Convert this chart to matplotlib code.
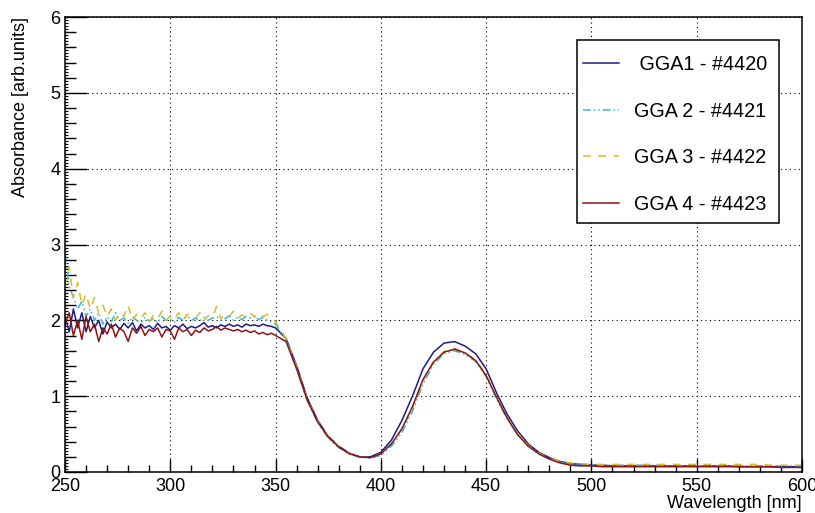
import numpy as np
import matplotlib
matplotlib.use("Agg")
import matplotlib.pyplot as plt
from matplotlib.patches import Rectangle
from matplotlib.ticker import MultipleLocator, NullFormatter

plt.rcParams['font.family'] = ['Liberation Sans', 'DejaVu Sans']

# wavelength grid: 2 nm steps in the noisy UV part, 5 nm after
wl = list(range(250, 351, 2)) + list(range(355, 601, 5))

# GGA1 - #4420 (navy)
gga1 = [2.05, 1.85, 2.15, 1.90, 2.10, 1.85, 2.05, 1.90, 2.00, 1.82,
        1.98, 1.90, 1.95, 1.88, 1.96, 1.90, 1.97, 1.86, 1.95, 1.90,
        1.93, 1.88, 1.96, 1.90, 1.92, 1.87, 1.93, 1.90, 1.95, 1.89,
        1.92, 1.90, 1.93, 1.97, 1.91, 1.93, 1.90, 1.94, 1.92, 1.95,
        1.92, 1.94, 1.91, 1.95, 1.93, 1.94, 1.92, 1.95, 1.93, 1.92, 1.90,
        1.76, 1.40, 0.98, 0.68, 0.47, 0.34, 0.25, 0.20, 0.20, 0.26,
        0.42, 0.68, 1.00, 1.36, 1.58, 1.70, 1.72, 1.66, 1.56, 1.36,
        1.04, 0.76, 0.54, 0.37, 0.26, 0.19, 0.14, 0.11, 0.10, 0.09,
        0.09, 0.08, 0.08, 0.08, 0.08, 0.08, 0.08, 0.08, 0.08, 0.08,
        0.08, 0.08, 0.08, 0.07, 0.07, 0.07, 0.07, 0.07, 0.07, 0.07]

# GGA 2 - #4421 (cyan)
gga2 = [2.90, 2.45, 2.30, 2.15, 2.25, 2.05, 2.15, 2.00, 2.10, 1.95,
        2.05, 1.98, 2.10, 2.00, 2.03, 1.96, 2.05, 2.00, 1.97, 2.04,
        1.99, 2.02, 1.97, 2.05, 2.00, 2.02, 1.98, 2.04, 2.00, 2.06,
        2.00, 2.03, 1.99, 2.04, 2.00, 2.03, 2.05, 2.00, 2.02, 2.06,
        2.00, 2.04, 2.01, 2.05, 2.03, 2.06, 2.01, 2.04, 2.00, 1.98, 1.95,
        1.74, 1.36, 0.94, 0.65, 0.45, 0.32, 0.24, 0.19, 0.18, 0.22,
        0.34, 0.52, 0.80, 1.16, 1.42, 1.56, 1.60, 1.55, 1.46, 1.26,
        0.96, 0.70, 0.49, 0.34, 0.24, 0.17, 0.13, 0.10, 0.09, 0.09,
        0.09, 0.09, 0.09, 0.09, 0.09, 0.09, 0.09, 0.08, 0.08, 0.08,
        0.08, 0.08, 0.08, 0.08, 0.08, 0.08, 0.08, 0.08, 0.08, 0.08]

# GGA 3 - #4422 (yellow)
gga3 = [2.45, 2.70, 2.30, 2.50, 2.20, 2.35, 2.15, 2.30, 2.10, 2.20,
        2.05, 2.15, 2.00, 2.10, 2.05, 2.20, 2.00, 2.08, 2.02, 2.10,
        1.98, 2.07, 2.02, 2.12, 2.00, 2.06, 2.02, 2.10, 2.00, 2.08,
        2.05, 2.03, 2.10, 2.00, 2.06, 2.04, 2.18, 2.02, 2.08, 2.05,
        2.12, 2.03, 2.07, 2.05, 2.10, 2.04, 2.09, 2.05, 2.08, 2.03, 1.98,
        1.76, 1.38, 0.96, 0.67, 0.47, 0.34, 0.25, 0.20, 0.19, 0.24,
        0.37, 0.57, 0.85, 1.20, 1.45, 1.59, 1.63, 1.57, 1.48, 1.28,
        0.98, 0.72, 0.51, 0.35, 0.25, 0.18, 0.14, 0.12, 0.11, 0.10,
        0.10, 0.10, 0.10, 0.10, 0.10, 0.10, 0.10, 0.10, 0.10, 0.10,
        0.10, 0.10, 0.10, 0.10, 0.10, 0.10, 0.09, 0.09, 0.09, 0.09]

# GGA 4 - #4423 (maroon)
gga4 = [1.95, 2.10, 1.80, 2.00, 1.75, 2.05, 1.85, 1.95, 1.72, 1.90,
        1.82, 1.95, 1.78, 1.90, 1.85, 1.72, 1.90, 1.83, 1.92, 1.80,
        1.88, 1.85, 1.90, 1.78, 1.88, 1.86, 1.75, 1.90, 1.85, 1.88,
        1.80, 1.87, 1.84, 1.90, 1.86, 1.88, 1.92, 1.87, 1.90, 1.88,
        1.86, 1.88, 1.85, 1.87, 1.84, 1.86, 1.82, 1.84, 1.81, 1.83, 1.80,
        1.72, 1.36, 0.95, 0.66, 0.46, 0.33, 0.24, 0.20, 0.19, 0.24,
        0.37, 0.57, 0.86, 1.22, 1.45, 1.58, 1.62, 1.57, 1.47, 1.27,
        0.98, 0.71, 0.49, 0.34, 0.24, 0.17, 0.12, 0.09, 0.08, 0.08,
        0.07, 0.07, 0.07, 0.07, 0.07, 0.07, 0.07, 0.07, 0.07, 0.07,
        0.07, 0.07, 0.07, 0.07, 0.07, 0.07, 0.07, 0.06, 0.06, 0.06]

labels = [' GGA1 - #4420', 'GGA 2 - #4421', 'GGA 3 - #4422', 'GGA 4 - #4423']

fig = plt.figure(figsize=(8.15, 5.13), dpi=100)
ax = fig.add_axes([65/815, 41/513, 737/815, 455/513])

lw = 1.1
ax.plot(wl, gga1, color='#1c1c82', lw=lw, label=labels[0])
ax.plot(wl, gga2, color='#3cb4d8', lw=lw, dashes=(5, 2, 1, 2, 1, 2), label=labels[1])
ax.plot(wl, gga3, color='#d2bf2a', lw=lw, dashes=(5, 5), label=labels[2])
ax.plot(wl, gga4, color='#8c1414', lw=lw, label=labels[3])

ax.set_xlim(250, 600)
ax.set_ylim(0, 6)

ax.xaxis.set_major_locator(MultipleLocator(50))
ax.xaxis.set_minor_locator(MultipleLocator(10))
ax.yaxis.set_major_locator(MultipleLocator(1))
ax.yaxis.set_minor_locator(MultipleLocator(0.2))

ax.tick_params(axis='x', which='major', direction='in', length=9.5, width=1.0,
               labelsize=13, pad=4, top=False)
ax.tick_params(axis='x', which='minor', direction='in', length=4.8, width=1.0, top=False)
ax.tick_params(axis='y', which='major', direction='in', length=15.5, width=1.0,
               labelsize=13, pad=3.5, right=False)
ax.tick_params(axis='y', which='minor', direction='in', length=7.8, width=1.0, right=False)

# tiny third-level ticks on the y axis
sec = ax.secondary_yaxis('left')
sec.yaxis.set_major_locator(MultipleLocator(0.04))
sec.yaxis.set_major_formatter(NullFormatter())
sec.tick_params(axis='y', direction='in', length=2.5, width=0.8)
sec.spines['left'].set_visible(False)

ax.grid(True, which='major', color='black', linestyle=(0, (1, 3)), lw=0.8)

for s in ax.spines.values():
    s.set_linewidth(1.1)

fig.text(802/815, 1 - 503/513, 'Wavelength [nm]', fontsize=13,
         ha='right', va='center')
fig.text(21/815, 1 - 17/513, 'Absorbance [arb.units]', fontsize=13,
         ha='center', va='top', rotation=90)

# legend box drawn by hand, legend entries placed inside it
box = Rectangle(((577-65)/737, (472-223)/455), 202/737, 183/455,
                transform=ax.transAxes, facecolor='white', edgecolor='black',
                lw=1.1, zorder=4)
ax.add_patch(box)
leg = ax.legend(loc='upper left', bbox_to_anchor=((583-65)/737, (472-55)/455),
                frameon=False, fontsize=14.2, handlelength=1.85,
                handletextpad=0.72, labelspacing=1.4, borderpad=0,
                borderaxespad=0)
leg.set_zorder(5)

fig.savefig('out.png', dpi=100)
